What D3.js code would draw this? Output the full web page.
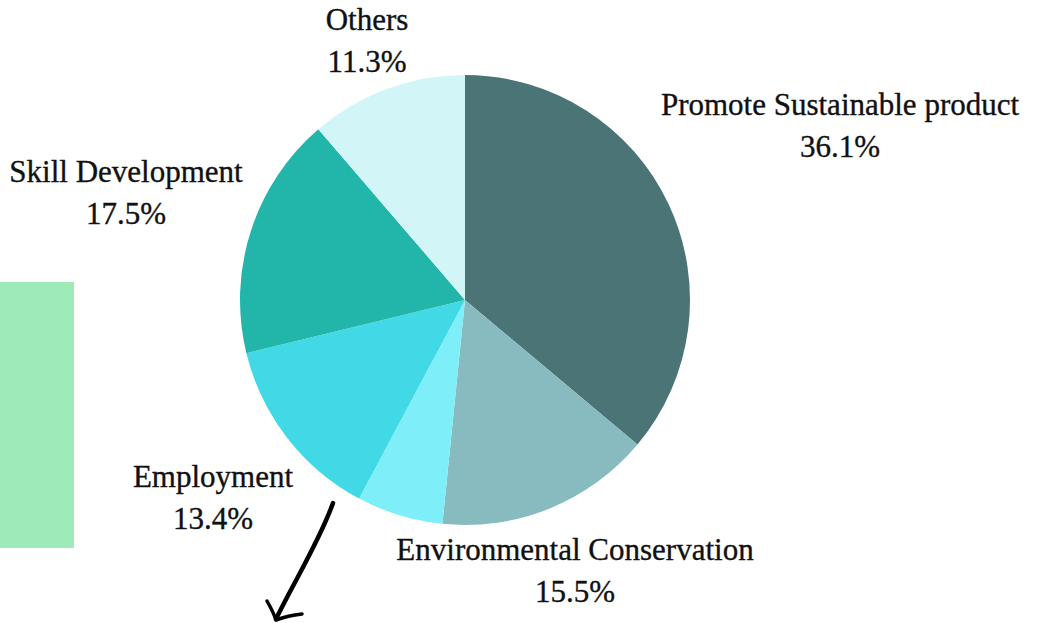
<!DOCTYPE html>
<html><head><meta charset="utf-8">
<script src="https://cdn.jsdelivr.net/npm/d3@7"></script>
<style>
body{margin:0;background:#fff;}
text{font-family:"Liberation Serif",serif;fill:#111;stroke:#111;stroke-width:0.35;}
</style></head>
<body>
<svg id="chart" width="1040" height="623"></svg>
<script>
const categories = ["Promote Sustainable product","Environmental Conservation","","Employment","Skill Development","Others"];
const values = [36.1, 15.5, 6.2, 13.4, 17.5, 11.3];
const colors = ["#4a7475","#88bbc0","#7eeff8","#41d9e6","#22b5a9","#d2f5f8"];

// label layout (x center, first-line baseline)
const labelPos = {
  "Promote Sustainable product": [840, 115],
  "Environmental Conservation": [575, 560],
  "Employment": [213, 487],
  "Skill Development": [126, 182],
  "Others": [367, 30]
};

const svg = d3.select("#chart");
const cx = 465, cy = 300, r = 225;

svg.append("rect").attr("x",0).attr("y",282).attr("width",74).attr("height",266).attr("fill","#9eebb9");

const data = categories.map((c,i)=>({cat:c, value:values[i], color:colors[i]}));
const pie = d3.pie().value(d=>d.value).sort(null);
const arc = d3.arc().innerRadius(0).outerRadius(r);

const g = svg.append("g").attr("transform",`translate(${cx},${cy})`);
g.selectAll("path").data(pie(data)).join("path")
  .attr("d",arc).attr("fill",d=>d.data.color);

const fmt = d3.format(".1f");
data.filter(d=>d.cat).forEach(d=>{
  const [x,y] = labelPos[d.cat];
  const t = svg.append("text").attr("text-anchor","middle").attr("font-size",31);
  t.append("tspan").attr("x",x).attr("y",y).text(d.cat);
  t.append("tspan").attr("x",x).attr("y",y+42).text(fmt(d.value)+"%");
});

// hand-drawn arrow
svg.append("path")
  .attr("d","M333,503 C320,540 295,580 276,619")
  .attr("fill","none").attr("stroke","#000").attr("stroke-width",4.5).attr("stroke-linecap","round");
svg.append("path")
  .attr("d","M267,601 C271,608 274,614 276,620 C284,617 293,615 302,614")
  .attr("fill","none").attr("stroke","#000").attr("stroke-width",3.5).attr("stroke-linecap","round").attr("stroke-linejoin","round");
</script>
</body></html>
